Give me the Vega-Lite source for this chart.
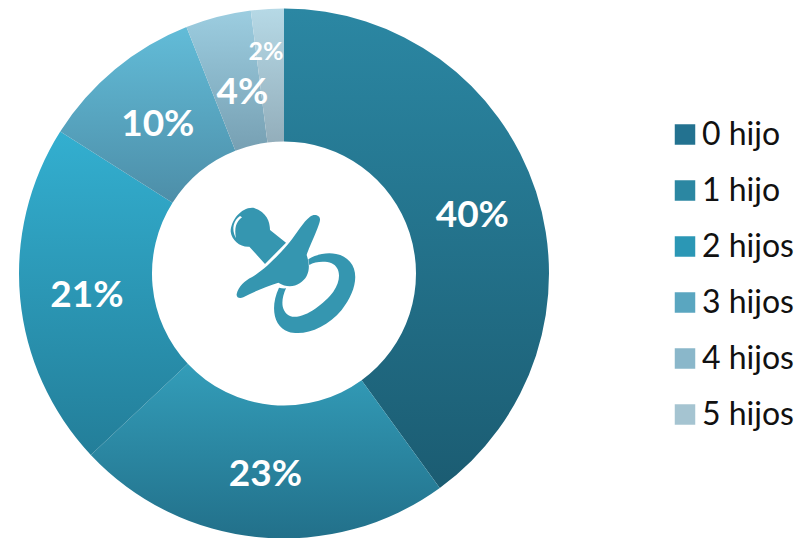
{
"$schema":"https://vega.github.io/schema/vega-lite/v6.json",
"width":568,"height":530,
"padding":{"left":0,"top":8.5,"right":0,"bottom":0},
"background":"white",
"view":{"stroke":null},
"data":{"values":[
{"cat":"0 hijo","share":40,"label":"40%","rank":0},
{"cat":"1 hijo","share":23,"label":"23%","rank":1},
{"cat":"2 hijos","share":21,"label":"21%","rank":2},
{"cat":"3 hijos","share":10,"label":"10%","rank":3},
{"cat":"4 hijos","share":4,"label":"4%","rank":4},
{"cat":"5 hijos","share":2,"label":"2%","rank":5}
]},
"transform":[{"stack":"share","sort":[{"field":"rank","order":"ascending"}],"as":["t0","t1"]},{"calculate":"(datum.t0+datum.t1)/2","as":"tmid"}],
"layer":[
{"mark":{"type":"arc","outerRadius":265,"innerRadius":132},
"encoding":{
"theta":{"field":"t0","type":"quantitative","stack":false,"scale":{"domain":[0,100]}},
"theta2":{"field":"t1"},
"color":{"condition":[
{"test":"datum.cat==='0 hijo'","value":{"gradient":"linear","x1":0,"y1":0,"x2":0,"y2":1,"stops":[{"offset":0,"color":"#2b87a3"},{"offset":1,"color":"#1b5c72"}]}},
{"test":"datum.cat==='1 hijo'","value":{"gradient":"linear","x1":0,"y1":0,"x2":0,"y2":1,"stops":[{"offset":0,"color":"#339db9"},{"offset":1,"color":"#22708a"}]}},
{"test":"datum.cat==='2 hijos'","value":{"gradient":"linear","x1":0,"y1":0,"x2":0,"y2":1,"stops":[{"offset":0,"color":"#33afd0"},{"offset":1,"color":"#237e99"}]}},
{"test":"datum.cat==='3 hijos'","value":{"gradient":"linear","x1":0,"y1":0,"x2":0,"y2":1,"stops":[{"offset":0,"color":"#62bcd8"},{"offset":1,"color":"#4d8ea8"}]}},
{"test":"datum.cat==='4 hijos'","value":{"gradient":"linear","x1":0,"y1":0,"x2":0,"y2":1,"stops":[{"offset":0,"color":"#9ccde0"},{"offset":1,"color":"#77a0b3"}]}},
{"test":"datum.cat==='5 hijos'","value":{"gradient":"linear","x1":0,"y1":0,"x2":0,"y2":1,"stops":[{"offset":0,"color":"#b6d9e6"},{"offset":1,"color":"#93aebb"}]}}
],
"field":"cat","type":"nominal","scale":{"domain":["0 hijo","1 hijo","2 hijos","3 hijos","4 hijos","5 hijos"],"range":["#237290","#2b87a2","#2b97b5","#5aa6c0","#8ab7ca","#a5c4d1"]},
"legend":{"title":null,"orient":"none","legendX":669,"legendY":110,"symbolType":"square","symbolSize":420,"symbolStrokeWidth":0,"labelFont":"Lato","labelFontSize":32,"labelColor":"#111111","rowPadding":24,"labelOffset":1,"labelLimit":200}}
}},
{"transform":[{"filter":"datum.rank<4"}],
"mark":{"type":"text","font":"Lato","fontWeight":"bold","color":"white","fontSize":37,"radius":198,"baseline":"middle","dy":4},
"encoding":{
"theta":{"field":"tmid","type":"quantitative","stack":false,"scale":{"domain":[0,100]}},
"text":{"field":"label"}
}},
{"transform":[{"filter":"datum.rank==4"}],
"mark":{"type":"text","font":"Lato","fontWeight":"bold","color":"white","fontSize":37,"radius":187,"baseline":"middle","dy":1,"dx":5},
"encoding":{
"theta":{"field":"tmid","type":"quantitative","stack":false,"scale":{"domain":[0,100]}},
"text":{"field":"label"}
}},
{"transform":[{"filter":"datum.rank==5"}],
"mark":{"type":"text","font":"Lato","fontWeight":"bold","color":"white","fontSize":25,"radius":224,"baseline":"middle","dy":2,"dx":-4},
"encoding":{
"theta":{"field":"tmid","type":"quantitative","stack":false,"scale":{"domain":[0,100]}},
"text":{"field":"label"}
}},
{"data":{"values":[{"part":"chupete"}]},
"mark":{"type":"point","filled":true,"opacity":1,"size":0.444,"color":"#3596b0","shape":"M-57 -28.5 L6 -92.5 L-42 -130.5 C-42 -155.5 -52 -185.5 -92 -197.5 C-127 -200.5 -160 -160.5 -160 -125.5 C-157 -100.5 -132 -78.5 -104 -80.5 Z M-142 61.5 C-137 39.5 -117 21.5 -97 11.5 C-52 -15.5 -7 -65.5 18 -95.5 C38 -120.5 58 -155.5 78 -170.5 C90 -180.5 110 -175.5 108 -160.5 C106 -140.5 78 -85.5 68 -55.5 C73 -40.5 80 -15.5 68 7.5 C53 34.5 18 49.5 -17 27.5 C-52 39.5 -92 54.5 -122 71.5 C-134 77.5 -144 71.5 -142 61.5 Z M73 -42.5 C108 -65.5 168 -70.5 198 -35.5 C228 -0.5 213 59.5 173 109.5 C128 164.5 58 189.5 13 174.5 C-32 159.5 -42 99.5 -15 42.5 C-7 44.5 0 45.5 6 44.5 C-10 79.5 -10 114.5 18 127.5 C53 141.5 118 94.5 148 54.5 C173 19.5 170 -18.5 143 -30.5 C123 -38.5 93 -35.5 76 -25.5 Z"},
"encoding":{}},
{"data":{"values":[{"part":"brillo"}]},
"mark":{"type":"point","filled":true,"opacity":1,"size":0.444,"color":"#ffffff","shape":"M-132 -172.5 C-150 -160.5 -160 -135.5 -144 -105.5 C-150 -135.5 -144 -155.5 -126 -168.5 Z"},
"encoding":{}}
]
}
